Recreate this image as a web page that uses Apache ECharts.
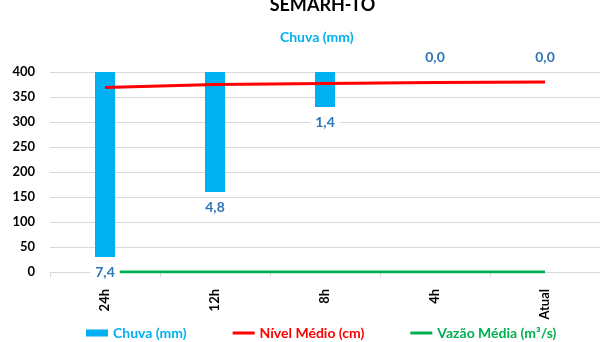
<!DOCTYPE html>
<html>
<head>
<meta charset="utf-8">
<script src="https://cdn.jsdelivr.net/npm/echarts@6/dist/echarts.min.js"></script>
<style>
  html, body { margin: 0; padding: 0; background: #fff; }
  #chart { width: 600px; height: 342px; }
</style>
</head>
<body>
<div id="chart"></div>
<script>
const categories = ['24h', '12h', '8h', '4h', 'Atual'];
const chuva = [7.4, 4.8, 1.4, 0.0, 0.0];
const nivel = [369, 375, 377, 379, 380];
const vazao = [0, 0, 0, 0, 0];
const levelTicks = [0, 50, 100, 150, 200, 250, 300, 350, 400];

const FONT = 'Lato, "Open Sans", sans-serif';
const fmt = v => v.toFixed(1).replace('.', ',');
const LINE_ICON = 'path://M0,0H22V3H0Z';

const chart = echarts.init(document.getElementById('chart'), null, { renderer: 'canvas' });

const rainData = chuva.map(v => v === 0 ? { value: v, label: { position: 'top' } } : { value: v });

chart.setOption({
  animation: false,
  backgroundColor: '#ffffff',
  textStyle: { fontFamily: FONT },
  graphic: [
    { type: 'text', x: 322.5, y: 5, style: { text: 'SEMARH-TO', font: 'bold 18px ' + FONT, fill: '#000', textAlign: 'center', textVerticalAlign: 'middle' } },
    { type: 'text', x: 316.7, y: 37, style: { text: 'Chuva (mm)', font: 'bold 14px ' + FONT, fill: '#00B0F0', textAlign: 'center', textVerticalAlign: 'middle' } }
  ],
  grid: { left: 50, top: 72, width: 558.5, height: 200, containLabel: false },
  legend: {
    left: 86, top: 326,
    itemWidth: 22, itemHeight: 7, itemGap: 46,
    padding: 0,
    symbolKeepAspect: true,
    textStyle: { fontFamily: FONT, fontWeight: 'bold', fontSize: 14 },
    data: [
      { name: 'Chuva (mm)', icon: 'rect', textStyle: { color: '#00B0F0' } },
      { name: 'Nível Médio (cm)', icon: LINE_ICON, textStyle: { color: '#FF0000' } },
      { name: 'Vazão Média (m³/s)', icon: LINE_ICON, textStyle: { color: '#00B050' } }
    ]
  },
  xAxis: {
    type: 'category',
    data: categories,
    boundaryGap: true,
    axisLine: { show: true, lineStyle: { color: '#d9d9d9', width: 1 } },
    axisTick: { show: true, length: 5, lineStyle: { color: '#d9d9d9' } },
    axisLabel: { rotate: 90, margin: 17, color: '#000', fontWeight: 'bold', fontSize: 13, fontFamily: FONT }
  },
  yAxis: [
    {
      type: 'value', min: levelTicks[0], max: levelTicks[levelTicks.length - 1], interval: 50,
      axisLine: { show: false }, axisTick: { show: false },
      splitLine: { show: true, lineStyle: { color: '#d9d9d9', width: 1 } },
      axisLabel: { margin: 15, color: '#000', fontWeight: 'bold', fontSize: 13, fontFamily: FONT }
    },
    {
      type: 'value', min: 0, max: 8, inverse: true, show: false,
      splitLine: { show: false }
    }
  ],
  series: [
    {
      name: 'Chuva (mm)', type: 'bar', yAxisIndex: 1, data: rainData,
      barWidth: 20, z: 2,
      itemStyle: { color: '#00B0F0' },
      label: {
        show: true, position: 'bottom', distance: 8,
        formatter: p => fmt(p.value),
        color: '#2E75B6', fontWeight: 'bold', fontSize: 14, fontFamily: FONT,
        backgroundColor: '#ffffff', padding: [0, 5]
      }
    },
    {
      name: 'Nível Médio (cm)', type: 'line', yAxisIndex: 0, data: nivel,
      symbol: 'none', z: 3,
      lineStyle: { color: '#FF0000', width: 3 },
      itemStyle: { color: '#FF0000' }
    },
    {
      name: 'Vazão Média (m³/s)', type: 'line', yAxisIndex: 0, data: vazao,
      symbol: 'none', z: 1,
      lineStyle: { color: '#00B050', width: 3 },
      itemStyle: { color: '#00B050' }
    }
  ]
});
</script>
</body>
</html>
